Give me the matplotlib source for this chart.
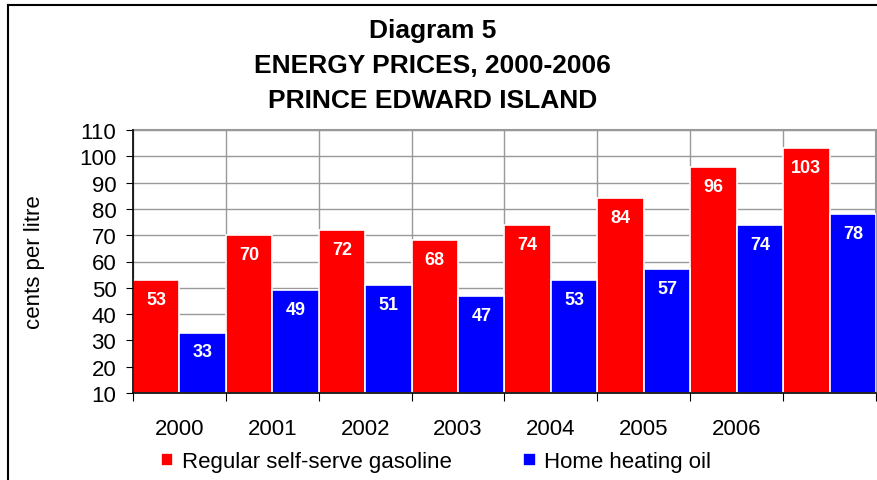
import matplotlib
matplotlib.use("Agg")
import matplotlib.pyplot as plt
from matplotlib.lines import Line2D
import numpy as np

plt.rcParams['font.family'] = ['Liberation Sans', 'DejaVu Sans']

# data
years = ['2000', '2001', '2002', '2003', '2004', '2005', '2006']
gasoline = [53, 70, 72, 68, 74, 84, 96, 103]
heating_oil = [33, 49, 51, 47, 53, 57, 74, 78]

fig = plt.figure(figsize=(8.78, 4.81), dpi=100)
ax = fig.add_axes([133/878, 1 - 394/481, (876 - 133)/878, (394 - 131)/481])

x = np.arange(len(gasoline))
b1 = ax.bar(x, np.array(gasoline) - 10, width=0.5, bottom=10, align='edge',
            color='#ff0000', edgecolor='white', linewidth=1.2, zorder=3,
            label='Regular self-serve gasoline')
b2 = ax.bar(x + 0.5, np.array(heating_oil) - 10, width=0.5, bottom=10, align='edge',
            color='#0000ff', edgecolor='white', linewidth=1.2, zorder=3,
            label='Home heating oil')

for bars, vals in [(b1, gasoline), (b2, heating_oil)]:
    for r, v in zip(bars, vals):
        ax.annotate(str(v), (r.get_x() + r.get_width()/2, v), xytext=(0, -14),
                    textcoords='offset points', ha='center', va='center',
                    color='white', fontsize=13, fontweight='bold', zorder=4)

ax.set_xlim(0, len(gasoline))
ax.set_ylim(10, 110)
ax.set_yticks(range(10, 111, 10))
ax.set_xticks(range(0, len(gasoline) + 1))
ax.set_xticklabels([])
ax.set_xticks(np.arange(len(years)) + 0.5, minor=True)
ax.set_xticklabels(years, minor=True)
ax.tick_params(axis='x', which='minor', length=0, pad=18, labelsize=16)
ax.tick_params(axis='x', which='major', length=6, direction='out')
ax.tick_params(axis='y', length=5, direction='out', labelsize=16, pad=7)

ax.grid(True, which='major', color='#999999', linewidth=1, zorder=0)
ax.set_axisbelow(True)
for s in ['top', 'right']:
    ax.spines[s].set_color('#999999')
    ax.spines[s].set_linewidth(1.5)
for s in ['left', 'bottom']:
    ax.spines[s].set_color('black')
    ax.spines[s].set_linewidth(1.2)
    ax.spines[s].set_zorder(5)

ax.set_ylabel('cents per litre', fontsize=16)
ax.yaxis.set_label_coords((45 - 133)/743, 0.5)

fig.text(0.493, 1 - 31/481, 'Diagram 5', ha='center', va='center',
         fontsize=19, fontweight='bold')
fig.text(0.493, 1 - 66/481, 'ENERGY PRICES, 2000-2006', ha='center', va='center',
         fontsize=19, fontweight='bold')
fig.text(0.493, 1 - 101/481, 'PRINCE EDWARD ISLAND', ha='center', va='center',
         fontsize=19, fontweight='bold')

fig.legend(handles=[b1, b2], loc='center', bbox_to_anchor=(0.497, 1 - 463/481),
           ncol=2, frameon=False, fontsize=16, handlelength=0.55, handleheight=0.55,
           handletextpad=0.4, columnspacing=3.2, borderpad=0)

# outer chart frame (cropped at right and bottom)
fig.add_artist(Line2D([8/878, 8/878], [0, 1 - 6/481], color='black', linewidth=1.5))
fig.add_artist(Line2D([8/878, 1], [1 - 6/481, 1 - 6/481], color='black', linewidth=1.5))

fig.savefig('out.png', dpi=100)
